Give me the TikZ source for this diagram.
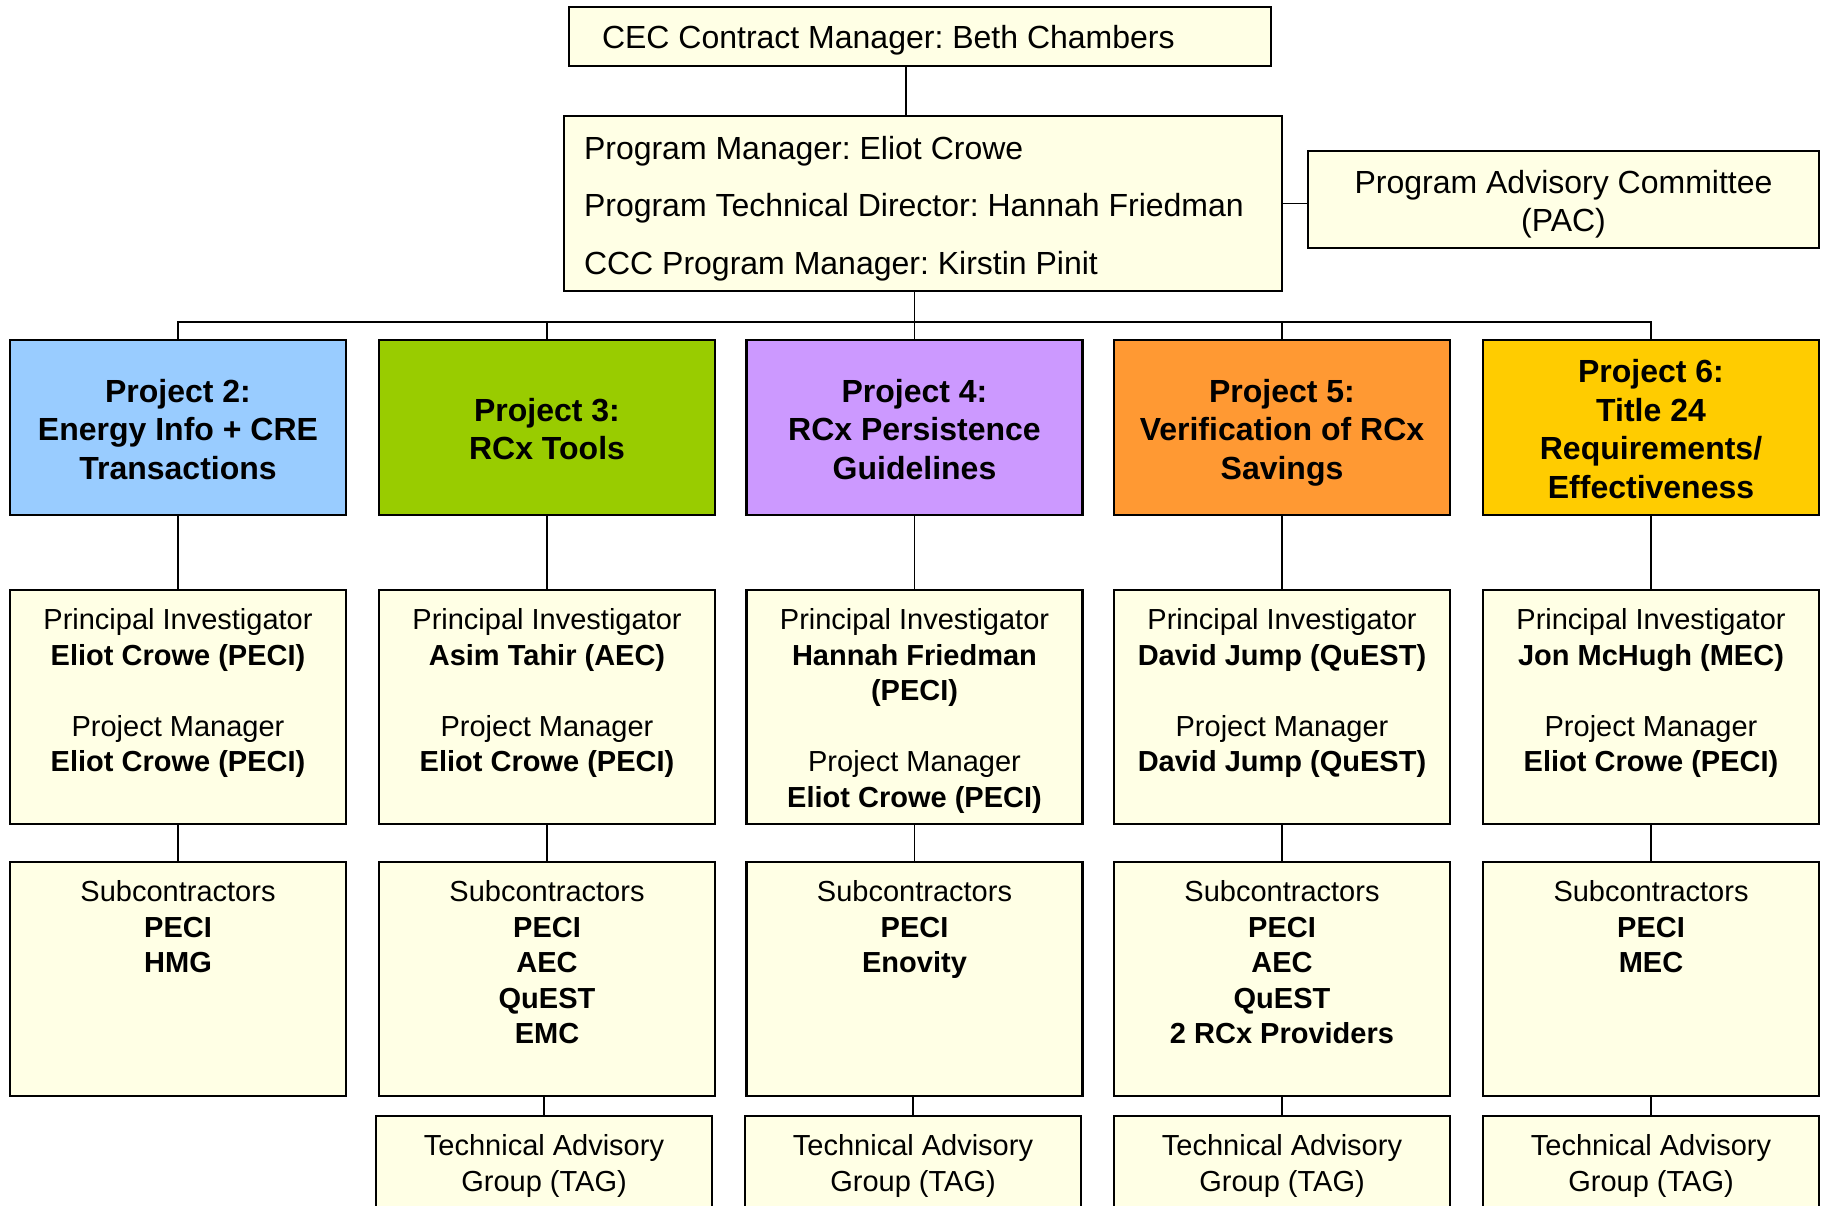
\documentclass[tikz,border=0pt]{standalone}
\usepackage{fontspec}
\setmainfont{Liberation Sans}
\usetikzlibrary{calc}
\frenchspacing
\definecolor{pale}{HTML}{FFFFE5}
\definecolor{pblue}{HTML}{99CCFF}
\definecolor{pgreen}{HTML}{99CC00}
\definecolor{ppurple}{HTML}{CC99FF}
\definecolor{porange}{HTML}{FF9933}
\definecolor{pgold}{HTML}{FFCC00}
% top-aligned text block for the lower boxes
\newcommand\tb[2]{\parbox[c][#1][t]{330pt}{\centering\fontsize{29}{35.6}\selectfont\rule{0pt}{39.5pt}#2}}
% vertically centred text block: height, width, shift, alignment, content
\newcommand\cb[5]{\parbox[c][#1][c]{#2}{#4\vspace*{#3}\strut#5\strut}}
\begin{document}
\begin{tikzpicture}[x=1pt,y=-1pt,
  box/.style={draw=black,line width=2.4pt,fill=pale,rectangle},
  projbox/.style={draw=black,line width=2.4pt,rectangle,inner sep=0pt,font=\fontsize{32}{38.5}\selectfont\bfseries},
  lowbox/.style={box,inner sep=0pt,minimum width=336pt},
  conn/.style={line width=1.8pt,draw=black}]
\useasboundingbox (0,0) rectangle (1822,1205);

% top level
\node[box,inner sep=0pt,font=\fontsize{32}{38}\selectfont] (cec) at (920,36.5)
  {\cb{59pt}{702pt}{9pt}{\raggedright\leftskip=33pt}{CEC Contract Manager: Beth Chambers}};
\node[box,inner sep=0pt,font=\fontsize{32}{57.5}\selectfont] (prog) at (923,203.5)
  {\cb{175pt}{718pt}{3.6pt}{\raggedright\leftskip=20pt}{Program Manager: Eliot Crowe\\Program Technical Director: Hannah Friedman\\CCC Program Manager: Kirstin Pinit}};
\node[box,inner sep=0pt,font=\fontsize{32}{38}\selectfont] (pac) at (1563.5,199.5)
  {\cb{97pt}{511pt}{10.8pt}{\centering}{Program Advisory Committee\\(PAC)}};

% projects
\node[projbox,fill=pblue] (p2) at (178,427.5) {\cb{175pt}{336pt}{10.6pt}{\centering}{Project 2:\\Energy Info + CRE\\Transactions}};
\node[projbox,fill=pgreen] (p3) at (547,427.5) {\cb{175pt}{336pt}{10.6pt}{\centering}{Project 3:\\RCx Tools}};
\node[projbox,fill=ppurple] (p4) at (914.5,427.5) {\cb{175pt}{336pt}{10.6pt}{\centering}{Project 4:\\RCx Persistence\\Guidelines}};
\node[projbox,fill=porange] (p5) at (1282,427.5) {\cb{175pt}{336pt}{10.6pt}{\centering}{Project 5:\\Verification of RCx\\Savings}};
\node[projbox,fill=pgold] (p6) at (1651,427.5) {\cb{175pt}{336pt}{10.6pt}{\centering}{Project 6:\\Title 24\\Requirements/\\Effectiveness}};

% principal investigators
\node[lowbox] (pi2) at (178,707) {\tb{234pt}{Principal Investigator\\\textbf{Eliot Crowe (PECI)}\\[35.6pt]Project Manager\\\textbf{Eliot Crowe (PECI)}}};
\node[lowbox] (pi3) at (547,707) {\tb{234pt}{Principal Investigator\\\textbf{Asim Tahir (AEC)}\\[35.6pt]Project Manager\\\textbf{Eliot Crowe (PECI)}}};
\node[lowbox] (pi4) at (914.5,707) {\tb{234pt}{Principal Investigator\\\textbf{Hannah Friedman}\\\textbf{(PECI)}\\[35.6pt]Project Manager\\\textbf{Eliot Crowe (PECI)}}};
\node[lowbox] (pi5) at (1282,707) {\tb{234pt}{Principal Investigator\\\textbf{David Jump (QuEST)}\\[35.6pt]Project Manager\\\textbf{David Jump (QuEST)}}};
\node[lowbox] (pi6) at (1651,707) {\tb{234pt}{Principal Investigator\\\textbf{Jon McHugh (MEC)}\\[35.6pt]Project Manager\\\textbf{Eliot Crowe (PECI)}}};

% subcontractors
\node[lowbox] (s2) at (178,979) {\tb{234pt}{Subcontractors\\\textbf{PECI}\\\textbf{HMG}}};
\node[lowbox] (s3) at (547,979) {\tb{234pt}{Subcontractors\\\textbf{PECI}\\\textbf{AEC}\\\textbf{QuEST}\\\textbf{EMC}}};
\node[lowbox] (s4) at (914.5,979) {\tb{234pt}{Subcontractors\\\textbf{PECI}\\\textbf{Enovity}}};
\node[lowbox] (s5) at (1282,979) {\tb{234pt}{Subcontractors\\\textbf{PECI}\\\textbf{AEC}\\\textbf{QuEST}\\\textbf{2 RCx Providers}}};
\node[lowbox] (s6) at (1651,979) {\tb{234pt}{Subcontractors\\\textbf{PECI}\\\textbf{MEC}}};

% technical advisory groups (cut off at the bottom)
\node[lowbox] (t3) at (544,1183) {\tb{134pt}{Technical Advisory\\Group (TAG)}};
\node[lowbox] (t4) at (913,1183) {\tb{134pt}{Technical Advisory\\Group (TAG)}};
\node[lowbox] (t5) at (1282,1183) {\tb{134pt}{Technical Advisory\\Group (TAG)}};
\node[lowbox] (t6) at (1651,1183) {\tb{134pt}{Technical Advisory\\Group (TAG)}};

\coordinate (bus) at (0,322);

% connectors
\draw[conn] ([xshift=-14pt]cec.south) -- ([xshift=-14pt]cec.south |- prog.north);
\draw[conn] (prog.east) -- (prog.east -| pac.west);
\draw[conn] (prog.south -| p4.north) -- (p4.north);
\draw[conn] (p2.north) |- (p6.north |- bus) -- (p6.north);
\draw[conn] (p3.north) -- (p3.north |- bus);
\draw[conn] (p5.north) -- (p5.north |- bus);
\foreach \i in {2,...,6}{
  \draw[conn] (p\i.south) -- (pi\i.north);
  \draw[conn] (pi\i.south) -- (s\i.north);
}
\foreach \i in {3,...,6}{
  \draw[conn] (t\i.north |- s\i.south) -- (t\i.north);
}
\end{tikzpicture}
\end{document}
